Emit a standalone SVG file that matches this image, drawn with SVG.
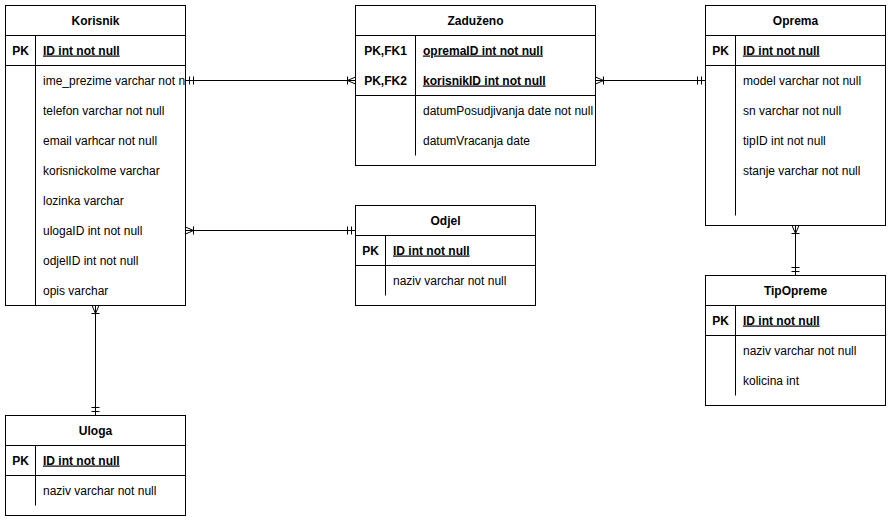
<svg xmlns="http://www.w3.org/2000/svg" width="891" height="520" viewBox="0 0 891 520">
<style>
  .box { fill: #ffffff; stroke: #000000; stroke-width: 1; }
  .ln { stroke: #000000; stroke-width: 1; fill: none; }
  text { font-family: "Liberation Sans", Arial, Helvetica, sans-serif; font-size: 12px; fill: #000000; }
  .title { font-weight: bold; text-anchor: middle; }
  .key { font-weight: bold; text-anchor: middle; }
  .pk { font-weight: bold; text-decoration: underline; }
  .conn { stroke: #000000; stroke-width: 1; fill: none; }
</style>
<defs>
  <marker id="one" markerUnits="userSpaceOnUse" orient="auto-start-reverse" refX="0" refY="0" markerWidth="20" markerHeight="20" viewBox="-10 -10 20 20" overflow="visible">
    <path d="M-4,-4 V4 M-8,-4 V4" stroke="#000" stroke-width="1" fill="none"/>
  </marker>
  <marker id="many" markerUnits="userSpaceOnUse" orient="auto-start-reverse" refX="0" refY="0" markerWidth="20" markerHeight="20" viewBox="-10 -10 20 20" overflow="visible">
    <path d="M0,-3.5 L-8,0 L0,3.5 M-8,-4 V4" stroke="#000" stroke-width="1" fill="none"/>
  </marker>
</defs>
<rect x="0" y="0" width="891" height="520" fill="#ffffff"/>

<g id="connectors">
  <path class="conn" d="M185.5,80.5 H355.5" marker-start="url(#one)" marker-end="url(#many)"/>
  <path class="conn" d="M595.5,80.5 H705.5" marker-start="url(#many)" marker-end="url(#one)"/>
  <path class="conn" d="M185.5,230.5 H355.5" marker-start="url(#many)" marker-end="url(#one)"/>
  <path class="conn" d="M95.5,305.5 V415.5" marker-start="url(#many)" marker-end="url(#one)"/>
  <path class="conn" d="M795.5,225.5 V275.5" marker-start="url(#many)" marker-end="url(#one)"/>
</g>

<g id="Korisnik">
  <rect class="box" x="5.5" y="5.5" width="180" height="300"/>
  <path class="ln" d="M5.5,35.5 H185.5 M5.5,65.5 H185.5 M35.5,35.5 V305.5"/>
  <text class="title" x="95.5" y="24.5">Korisnik</text>
  <text class="key" x="20.5" y="54.5">PK</text>
  <text class="pk" x="43" y="54.5">ID int not null</text>
  <text x="43" y="84.5">ime_prezime varchar not n</text>
  <text x="43" y="114.5">telefon varchar not null</text>
  <text x="43" y="144.5">email varhcar not null</text>
  <text x="43" y="174.5">korisnickoIme varchar</text>
  <text x="43" y="204.5">lozinka varchar</text>
  <text x="43" y="234.5">ulogaID int not null</text>
  <text x="43" y="264.5">odjelID int not null</text>
  <text x="43" y="294.5">opis varchar</text>
</g>

<g id="Zaduzeno">
  <rect class="box" x="355.5" y="5.5" width="240" height="160"/>
  <path class="ln" d="M355.5,35.5 H595.5 M355.5,95.5 H595.5 M415.5,35.5 V155.5"/>
  <text class="title" x="475.5" y="24.5">Zaduženo</text>
  <text class="key" x="385.5" y="54.5">PK,FK1</text>
  <text class="pk" x="423" y="54.5">opremaID int not null</text>
  <text class="key" x="385.5" y="84.5">PK,FK2</text>
  <text class="pk" x="423" y="84.5">korisnikID int not null</text>
  <text x="423" y="114.5">datumPosudjivanja date not null</text>
  <text x="423" y="144.5">datumVracanja date</text>
</g>

<g id="Oprema">
  <rect class="box" x="705.5" y="5.5" width="180" height="220"/>
  <path class="ln" d="M705.5,35.5 H885.5 M705.5,65.5 H885.5 M735.5,35.5 V215.5"/>
  <text class="title" x="795.5" y="24.5">Oprema</text>
  <text class="key" x="720.5" y="54.5">PK</text>
  <text class="pk" x="743" y="54.5">ID int not null</text>
  <text x="743" y="84.5">model varchar not null</text>
  <text x="743" y="114.5">sn varchar not null</text>
  <text x="743" y="144.5">tipID int not null</text>
  <text x="743" y="174.5">stanje varchar not null</text>
</g>

<g id="Odjel">
  <rect class="box" x="355.5" y="205.5" width="180" height="100"/>
  <path class="ln" d="M355.5,235.5 H535.5 M355.5,265.5 H535.5 M385.5,235.5 V295.5"/>
  <text class="title" x="445.5" y="224.5">Odjel</text>
  <text class="key" x="370.5" y="254.5">PK</text>
  <text class="pk" x="393" y="254.5">ID int not null</text>
  <text x="393" y="284.5">naziv varchar not null</text>
</g>

<g id="TipOpreme">
  <rect class="box" x="705.5" y="275.5" width="180" height="130"/>
  <path class="ln" d="M705.5,305.5 H885.5 M705.5,335.5 H885.5 M735.5,305.5 V395.5"/>
  <text class="title" x="795.5" y="294.5">TipOpreme</text>
  <text class="key" x="720.5" y="324.5">PK</text>
  <text class="pk" x="743" y="324.5">ID int not null</text>
  <text x="743" y="354.5">naziv varchar not null</text>
  <text x="743" y="384.5">kolicina int</text>
</g>

<g id="Uloga">
  <rect class="box" x="5.5" y="415.5" width="180" height="100"/>
  <path class="ln" d="M5.5,445.5 H185.5 M5.5,475.5 H185.5 M35.5,445.5 V505.5"/>
  <text class="title" x="95.5" y="434.5">Uloga</text>
  <text class="key" x="20.5" y="464.5">PK</text>
  <text class="pk" x="43" y="464.5">ID int not null</text>
  <text x="43" y="494.5">naziv varchar not null</text>
</g>
</svg>
